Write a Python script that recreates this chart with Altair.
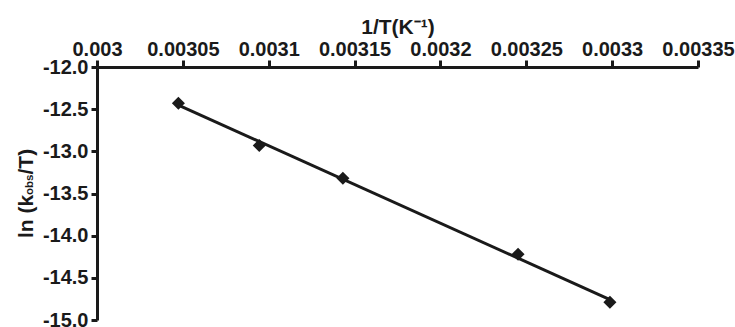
import altair as alt
import pandas as pd

inv_T = [0.0030474, 0.0030945, 0.0031432, 0.0032452, 0.0032987]
ln_k_over_T = [-12.43, -12.93, -13.32, -14.22, -14.79]

df = pd.DataFrame({"x": inv_T, "y": ln_k_over_T})

FONT = "Liberation Sans"
FS = 20
INK = "#1a1a1a"

xscale = alt.Scale(domain=[0.003, 0.00335], nice=False, zero=False)
yscale = alt.Scale(domain=[-15, -12], nice=False, zero=False)

xaxis = alt.Axis(
    orient="top", values=[0.003, 0.00305, 0.0031, 0.00315, 0.0032, 0.00325, 0.0033, 0.00335],
    format=".5~f", grid=False, domainColor=INK, domainWidth=3, tickColor=INK,
    tickWidth=3, tickSize=7, labelFont=FONT, labelFontSize=FS, labelFontWeight="bold",
    labelColor=INK, labelPadding=1, labelFlush=False, labelOverlap=False,
    title="1/T(K⁻¹)", titleFont=FONT, titleFontSize=21, titleFontWeight="bold",
    titleColor=INK, titlePadding=2,
)
yaxis = alt.Axis(
    values=[-12, -12.5, -13, -13.5, -14, -14.5, -15],
    labelExpr="replace(format(datum.value, '.1f'), '\u2212', '-')",
    grid=False, domainColor=INK, domainWidth=3, tickColor=INK, tickWidth=3,
    tickSize=6, labelFont=FONT, labelFontSize=FS, labelFontWeight="bold",
    labelColor=INK, labelPadding=3, labelFlush=False, labelOverlap=False, title=None,
)

base = alt.Chart(df)

line = base.mark_line(color=INK, strokeWidth=3).encode(
    x=alt.X("x:Q", scale=xscale, axis=xaxis),
    y=alt.Y("y:Q", scale=yscale, axis=yaxis),
).transform_regression("x", "y")

points = base.mark_point(shape="diamond", filled=True, color=INK, size=170, opacity=1).encode(
    x=alt.X("x:Q", scale=xscale),
    y=alt.Y("y:Q", scale=yscale),
)

TS = 21
one = alt.Data(values=[{}])
t1 = alt.Chart(one).mark_text(text="ln (k", angle=270, align="left", baseline="alphabetic",
                              font=FONT, fontSize=TS, fontWeight="bold", color=INK).encode(
    x=alt.value(-64), y=alt.value(171))
t2 = alt.Chart(one).mark_text(text="obs", angle=270, align="left", baseline="alphabetic",
                              font=FONT, fontSize=11.5, fontWeight="bold", color=INK).encode(
    x=alt.value(-64), y=alt.value(128))
t3 = alt.Chart(one).mark_text(text="/T)", angle=270, align="left", baseline="alphabetic",
                              font=FONT, fontSize=TS, fontWeight="bold", color=INK).encode(
    x=alt.value(-64), y=alt.value(107.5))

chart = alt.layer(line, points, t1, t2, t3).properties(
    width=601, height=253,
    autosize=alt.AutoSizeParams(type="none"),
    padding={"left": 97, "top": 67, "right": 37, "bottom": 7},
    background="white",
).configure_view(stroke=None)

chart.save("out.html", embed_options={"renderer": "svg", "actions": False})
